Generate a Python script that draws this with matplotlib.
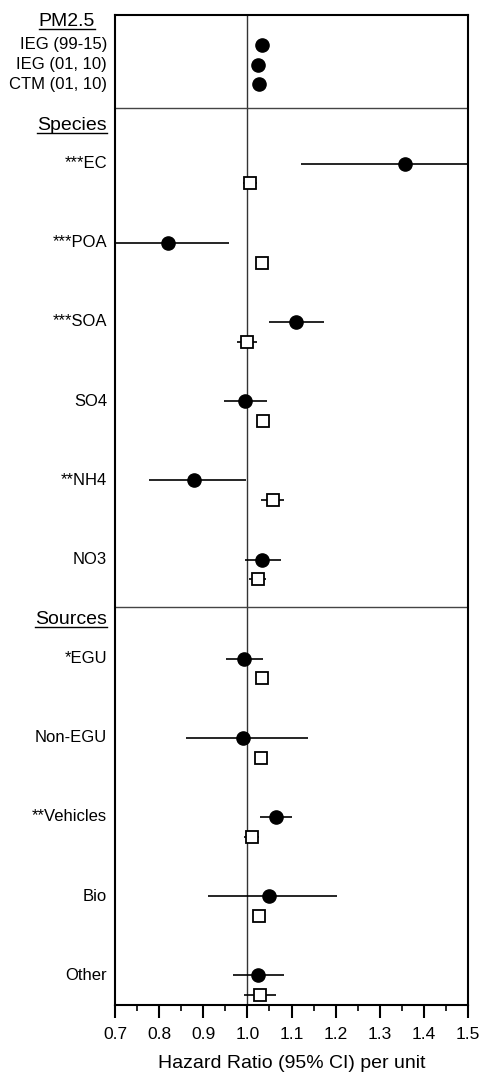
import numpy as np
import matplotlib.pyplot as plt
from matplotlib.lines import Line2D
from matplotlib.ticker import MultipleLocator

plt.rcParams['font.family'] = ['Liberation Sans', 'DejaVu Sans']

# PM2.5 total mass models
pm_labels = ['IEG (99-15)', 'IEG (01, 10)', 'CTM (01, 10)']
pm_hr = [1.033, 1.025, 1.027]

# species: filled circles (a) and open squares (b)
species = ['***EC', '***POA', '***SOA', 'SO4', '**NH4', 'NO3']
species_hr_a = [1.357, 0.819, 1.110, 0.995, 0.879, 1.034]
species_lo_a = [1.122, 0.700, 1.050, 0.947, 0.776, 0.995]
species_hi_a = [1.550, 0.959, 1.174, 1.044, 0.996, 1.076]
species_hr_b = [1.006, 1.034, 0.999, 1.035, 1.057, 1.023]
species_lo_b = [0.989, 1.034, 0.977, 1.024, 1.031, 1.004]
species_hi_b = [1.021, 1.034, 1.021, 1.046, 1.083, 1.042]

# sources
sources = ['*EGU', 'Non-EGU', '**Vehicles', 'Bio', 'Other']
sources_hr_a = [0.992, 0.989, 1.065, 1.048, 1.025]
sources_lo_a = [0.951, 0.861, 1.029, 0.910, 0.967]
sources_hi_a = [1.035, 1.138, 1.102, 1.202, 1.084]
sources_hr_b = [1.033, 1.030, 1.010, 1.026, 1.029]
sources_lo_b = [1.033, 1.030, 0.993, 1.026, 0.992]
sources_hi_b = [1.033, 1.030, 1.027, 1.026, 1.066]

fig = plt.figure(figsize=(4.83, 10.72), dpi=100)
ax = fig.add_axes([115 / 483, 67 / 1072, 353 / 483, 990 / 1072])

# row positions (in row slots, counted from the top)
y_pm = np.arange(len(pm_labels)) + 1.5
y_sp = 7.5 + 4 * np.arange(len(species))
y_so = 32.5 + 4 * np.arange(len(sources))

ax.axvline(1.0, color='#333333', lw=1.0, zorder=1)
ax.axhline(4.7, color='#444444', lw=1.0, zorder=1)
ax.axhline(29.9, color='#444444', lw=1.0, zorder=1)

circ = dict(marker='o', ms=9.5, mfc='black', mec='black', ls='none', zorder=4)
sq = dict(marker='s', ms=8, mfc='white', mec='black', mew=1.3, ls='none', zorder=4)

ax.plot(pm_hr, y_pm, **circ)

for ys, hra, loa, hia, hrb, lob, hib in [
        (y_sp, species_hr_a, species_lo_a, species_hi_a, species_hr_b, species_lo_b, species_hi_b),
        (y_so, sources_hr_a, sources_lo_a, sources_hi_a, sources_hr_b, sources_lo_b, sources_hi_b)]:
    ax.hlines(ys, loa, hia, color='black', lw=1.2, zorder=3)
    ax.plot(hra, ys, **circ)
    ax.hlines(ys + 1, lob, hib, color='black', lw=1.2, zorder=3)
    ax.plot(hrb, ys + 1, **sq)

ax.set_xlim(0.7, 1.5)
ax.set_ylim(50, 0)
ax.set_yticks([])
ax.xaxis.set_major_locator(MultipleLocator(0.1))
ax.xaxis.set_minor_locator(MultipleLocator(0.05))
ax.xaxis.set_major_formatter(plt.FuncFormatter(lambda v, p: f'{v:.1f}'))
ax.tick_params(axis='x', which='major', length=9, width=1.5, labelsize=12.5, pad=7)
ax.tick_params(axis='x', which='minor', length=4.5, width=1.2)
for s in ax.spines.values():
    s.set_linewidth(1.5)
ax.set_xlabel('Hazard Ratio (95% CI) per unit', fontsize=14, labelpad=9)

tr = ax.get_yaxis_transform()
lx = -8 / 353
for lab, y in zip(pm_labels, y_pm):
    ax.text(lx, y, lab, transform=tr, ha='right', va='center', fontsize=12)
for lab, y in zip(species, y_sp):
    ax.text(lx, y, lab, transform=tr, ha='right', va='center', fontsize=12)
for lab, y in zip(sources, y_so):
    ax.text(lx, y, lab, transform=tr, ha='right', va='center', fontsize=12)

headers = [
    ax.text(-48 / 353, 0.35, 'PM2.5', transform=tr, ha='center', va='center', fontsize=14),
    ax.text(lx, 5.6, 'Species', transform=tr, ha='right', va='center', fontsize=14),
    ax.text(lx, 30.55, 'Sources', transform=tr, ha='right', va='center', fontsize=14),
]

# underline the group headers
fig.canvas.draw()
r = fig.canvas.get_renderer()
for t in headers:
    bb = t.get_window_extent(r)
    yl = bb.y0 + 1
    fig.add_artist(Line2D([bb.x0 / fig.bbox.width, bb.x1 / fig.bbox.width],
                          [yl / fig.bbox.height, yl / fig.bbox.height],
                          color='black', lw=1.0))

fig.savefig('out.png', dpi=100)
